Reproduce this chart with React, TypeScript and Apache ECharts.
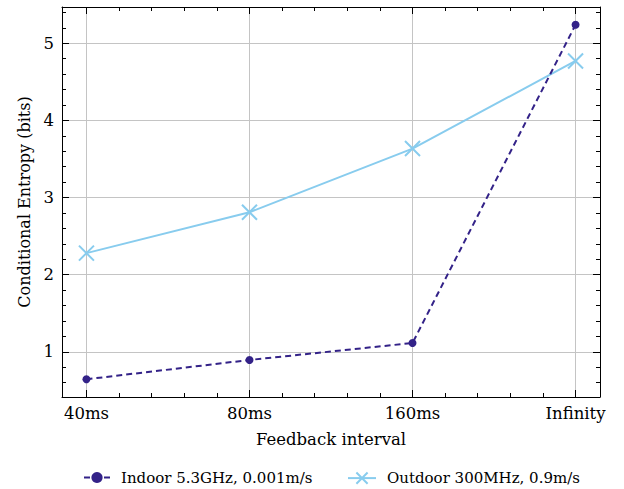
import React, { useEffect, useRef } from "react";
import * as echarts from "echarts";

const categories = ["40ms", "80ms", "160ms", "Infinity"];
const indoorValues = [0.645, 0.895, 1.115, 5.24];
const outdoorValues = [2.28, 2.81, 3.635, 4.77];
const indoorName = "Indoor 5.3GHz, 0.001m/s";
const outdoorName = "Outdoor 300MHz, 0.9m/s";
const yMajorTicks = [1, 2, 3, 4, 5];

const FONT = "DejaVu Serif";
const GRID_COLOR = "#c4c4c4";

function steps(lo: number, hi: number, step: number) {
  const out: number[] = [];
  const start = Math.ceil(lo / step - 1e-9);
  const end = Math.floor(hi / step + 1e-9);
  for (let k = start; k <= end; k++) out.push(Math.round(k * step * 1000) / 1000);
  return out;
}

export default function App() {
  const ref = useRef<HTMLDivElement>(null);
  useEffect(() => {
    document.body.style.margin = "0";
    if (!ref.current) return;
    const chart = echarts.init(ref.current, null, { renderer: "svg" });
    const all = [...indoorValues, ...outdoorValues];
    const lo = Math.min(...all);
    const hi = Math.max(...all);
    const pad = (hi - lo) * 0.05;
    const yMin = lo - pad;
    const yMax = hi + pad;
    const n = categories.length - 1;
    const xMin = -0.05 * n;
    const xMax = n + 0.05 * n;
    const xMajor = categories.map((_, i) => i);
    const xMinor = steps(xMin, xMax, 0.2);
    const yMinor = steps(yMin, yMax, 0.2);

    const baseAxis = (extra: any) => ({
      type: "value",
      axisLine: { show: false, onZero: false },
      axisLabel: { show: false },
      splitLine: { show: false },
      ...extra,
    });
    const frameLine = { show: true, onZero: false, lineStyle: { color: "#000", width: 1 } };
    const major = (vals: number[]) => ({
      show: true,
      inside: true,
      length: 7,
      customValues: vals,
      lineStyle: { color: "#000", width: 1 },
    });
    const minor = (vals: number[]) => ({
      show: true,
      inside: true,
      length: 4,
      customValues: vals,
      lineStyle: { color: "#000", width: 1 },
    });
    const labelStyle = { show: true, margin: 8, color: "#000", fontFamily: FONT, fontSize: 16.5 };

    chart.setOption({
      animation: false,
      textStyle: { fontFamily: FONT },
      grid: { left: 62, right: 24, top: 7, bottom: 92, containLabel: false },
      xAxis: [
        baseAxis({
          position: "bottom",
          min: xMin,
          max: xMax,
          axisLine: frameLine,
          axisTick: major(xMajor),
          axisLabel: {
            ...labelStyle,
            customValues: xMajor,
            formatter: (v: number) => categories[Math.round(v)] ?? "",
          },
          splitLine: { show: true, lineStyle: { color: GRID_COLOR, width: 1 } },
          name: "Feedback interval",
          nameLocation: "middle",
          nameGap: 34,
          nameTextStyle: { color: "#000", fontFamily: FONT, fontSize: 16.5 },
        }),
        baseAxis({ position: "bottom", min: xMin, max: xMax, axisTick: minor(xMinor) }),
        baseAxis({ position: "top", min: xMin, max: xMax, axisLine: frameLine, axisTick: major(xMajor) }),
        baseAxis({ position: "top", min: xMin, max: xMax, axisTick: minor(xMinor) }),
      ],
      yAxis: [
        baseAxis({
          position: "left",
          min: yMin,
          max: yMax,
          axisLine: frameLine,
          axisTick: major(yMajorTicks),
          axisLabel: {
            ...labelStyle,
            customValues: yMajorTicks,
            formatter: (v: number) => String(Math.round(v)),
          },
          splitLine: { show: true, lineStyle: { color: GRID_COLOR, width: 1 } },
          name: "Conditional Entropy (bits)",
          nameLocation: "middle",
          nameGap: 30,
          nameTextStyle: { color: "#000", fontFamily: FONT, fontSize: 16 },
        }),
        baseAxis({ position: "left", min: yMin, max: yMax, axisTick: minor(yMinor) }),
        baseAxis({ position: "right", min: yMin, max: yMax, axisLine: frameLine, axisTick: major(yMajorTicks) }),
        baseAxis({ position: "right", min: yMin, max: yMax, axisTick: minor(yMinor) }),
      ],
      legend: [
        {
          data: [indoorName],
          left: 78,
          top: 465,
          itemWidth: 26,
          itemHeight: 14,
          textStyle: { color: "#000", fontFamily: FONT, fontSize: 15, padding: [0, 0, 0, 6] },
        },
        {
          data: [outdoorName],
          left: 342,
          top: 465,
          itemWidth: 28,
          itemHeight: 14,
          textStyle: { color: "#000", fontFamily: FONT, fontSize: 15, padding: [0, 0, 0, 6] },
        },
      ],
      series: [
        {
          name: indoorName,
          type: "line",
          xAxisIndex: 0,
          yAxisIndex: 0,
          data: indoorValues.map((v, i) => [i, v]),
          symbol: "circle",
          symbolSize: 8,
          lineStyle: { color: "#332288", width: 2, type: [6, 4] },
          itemStyle: { color: "#332288" },
          z: 3,
        },
        {
          name: outdoorName,
          type: "line",
          xAxisIndex: 0,
          yAxisIndex: 0,
          data: outdoorValues.map((v, i) => [i, v]),
          symbol: "path://M0,0L10,10M10,0L0,10",
          symbolSize: 15,
          lineStyle: { color: "#88CCEE", width: 2 },
          itemStyle: { color: "none", borderColor: "#88CCEE", borderWidth: 2 },
          z: 2,
        },
      ],
    });
    return () => chart.dispose();
  }, []);
  return <div ref={ref} style={{ width: 624, height: 489 }} />;
}
